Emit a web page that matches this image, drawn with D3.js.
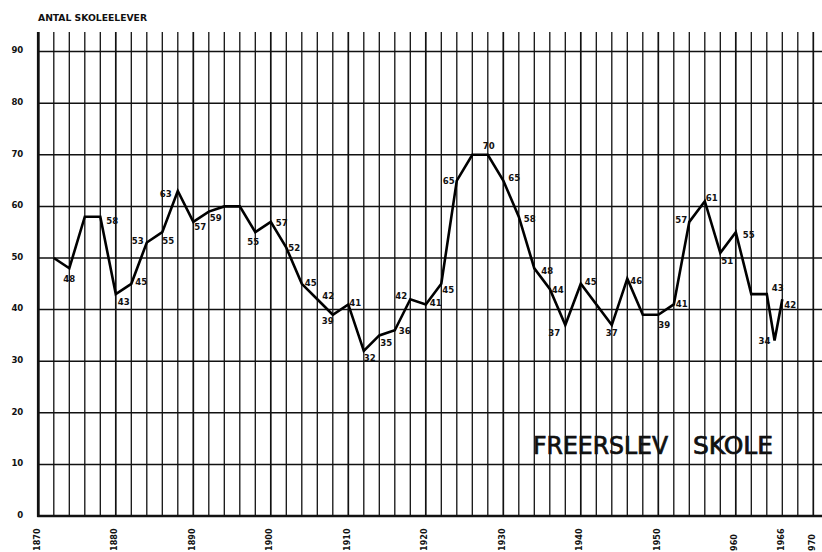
<!DOCTYPE html>
<html>
<head>
<meta charset="utf-8">
<script src="https://cdn.jsdelivr.net/npm/d3@7"></script>
<style>
  html, body { margin: 0; padding: 0; background: #fff; }
  svg { display: block; }
  text { font-family: "DejaVu Sans Condensed", "DejaVu Sans", sans-serif; fill: #111; }
</style>
</head>
<body>
<svg id="chart" width="822" height="552"></svg>
<script>
// Pupils enrolled at Freerslev Skole
const years = [1872, 1874, 1876, 1878, 1880, 1882, 1884, 1886, 1888, 1890, 1892, 1894,
  1896, 1898, 1900, 1902, 1904, 1906, 1908, 1910, 1912, 1914, 1916, 1918, 1920, 1922,
  1924, 1926, 1928, 1930, 1932, 1934, 1936, 1938, 1940, 1944, 1946, 1948, 1950, 1952,
  1954, 1956, 1958, 1960, 1962, 1964, 1965, 1966];
const pupils = [50, 48, 58, 58, 43, 45, 53, 55, 63, 57, 59, 60,
  60, 55, 57, 52, 45, 42, 39, 41, 32, 35, 36, 42, 41, 45,
  65, 70, 70, 65, 58, 48, 44, 37, 45, 37, 46, 39, 39, 41,
  57, 61, 51, 55, 43, 43, 34, 42];

// Which points carry a printed value
const labelled = [false, true, false, true, true, true, true, true, true, true, true, false,
  false, true, true, true, true, true, true, true, true, true, true, true, true, true,
  true, false, true, true, true, true, true, true, true, true, true, false, true, true,
  true, true, true, true, false, true, true, true];

const yTicks = [0, 10, 20, 30, 40, 50, 60, 70, 80, 90];
const xTickYears = [1870, 1880, 1890, 1900, 1910, 1920, 1930, 1940, 1950, 1960, 1966, 1970];
const xTickLabels = ["1870", "1880", "1890", "1900", "1910", "1920", "1930", "1940", "1950", "960", "1966", "970"];
const yTitle = "ANTAL SKOLEELEVER";
const chartTitle = ["FREERSLEV", "SKOLE"];

// Label placement relative to each point (layout only)
const labelOffset = [
  null, [0, 10], null, [12, 4], [8, 8], [10, -2], [-9, -2], [6, 8], [-12, 3], [7, 5], [7, 6], null,
  null, [-2, 9], [11, 1], [8, 0], [9, -1], [11, -4], [-5, 6], [7, -2], [6, 7], [7, 7], [10, 0], [-9, -4], [10, -2], [7, 6],
  [-8, 0], null, [1, -9], [11, -3], [11, 2], [13, 2], [8, 1], [-11, 8], [10, -2], [0, 8], [9, 2], null, [6, 10], [8, -1],
  [-8, -2], [7, -4], [7, 8], [13, 2], null, [11, -6], [-10, 0], [8, 5]
];

const svg = d3.select("#chart");
const left = 38.3, right = 822, bottom = 516, gridTop = 32;

const x = d3.scaleLinear().domain([1870, 1970]).range([left, 813.3]);
const y = d3.scaleLinear().domain([0, 90]).range([bottom, 51.6]);

// Graph-paper grid: vertical lines every two years, horizontal every ten pupils
const grid = svg.append("g").attr("stroke", "#111");
grid.selectAll("line.v")
  .data(d3.range(1872, 1971, 2))
  .join("line")
  .attr("class", "v")
  .attr("x1", d => x(d)).attr("x2", d => x(d))
  .attr("y1", gridTop).attr("y2", bottom)
  .attr("stroke-width", d => d % 10 === 0 ? 1.7 : 1.3);

grid.selectAll("line.h")
  .data(yTicks.filter(d => d > 0))
  .join("line")
  .attr("class", "h")
  .attr("x1", left).attr("x2", right)
  .attr("y1", d => y(d)).attr("y2", d => y(d))
  .attr("stroke-width", 1.5);

// Axis lines
svg.append("line")
  .attr("x1", left).attr("x2", left).attr("y1", gridTop).attr("y2", bottom + 1)
  .attr("stroke", "#111").attr("stroke-width", 2.8);
svg.append("line")
  .attr("x1", left - 1).attr("x2", right).attr("y1", bottom).attr("y2", bottom)
  .attr("stroke", "#111").attr("stroke-width", 2.6);

// Y tick labels
const yAxis = svg.append("g")
  .attr("transform", `translate(${left},0)`)
  .call(d3.axisLeft(y).tickValues(yTicks).tickSize(0).tickPadding(15).tickFormat(d3.format("d")));
yAxis.select(".domain").remove();
yAxis.selectAll("text")
  .attr("dy", "0.3em")
  .attr("y", -1.5)
  .style("font-size", "9.5px")
  .style("font-weight", "bold")
  .style("font-family", "'DejaVu Sans Condensed', sans-serif")
  .attr("fill", "#111");

// X tick labels, rotated to read upward
const xAxis = svg.append("g")
  .attr("transform", `translate(0,${bottom})`)
  .call(d3.axisBottom(x).tickValues(xTickYears).tickSize(0)
    .tickFormat((d, i) => xTickLabels[i]));
xAxis.select(".domain").remove();
xAxis.selectAll("text")
  .attr("transform", "rotate(-90)")
  .attr("text-anchor", "start")
  .attr("x", -35)
  .attr("y", -2)
  .attr("dy", "0.35em")
  .style("font-size", "9px")
  .style("font-weight", "bold")
  .style("font-family", "'DejaVu Sans Condensed', sans-serif")
  .attr("fill", "#111");

// Axis title
svg.append("text")
  .attr("x", 38).attr("y", 21)
  .attr("textLength", 109).attr("lengthAdjust", "spacingAndGlyphs")
  .style("font-size", "9.5px").style("font-weight", "bold")
  .text(yTitle);

// Enrolment line
const pts = years.map((yr, i) => ({ year: yr, value: pupils[i], i }));
svg.append("path")
  .datum(pts)
  .attr("fill", "none")
  .attr("stroke", "#000")
  .attr("stroke-width", 2.6)
  .attr("stroke-linejoin", "miter")
  .attr("d", d3.line().x(d => x(d.year)).y(d => y(d.value)));

// Value labels
svg.append("g")
  .selectAll("text")
  .data(pts.filter(d => labelled[d.i]))
  .join("text")
  .attr("x", d => x(d.year) + labelOffset[d.i][0])
  .attr("y", d => y(d.value) + labelOffset[d.i][1])
  .attr("text-anchor", "middle")
  .attr("dy", "0.35em")
  .style("font-size", "9.5px")
  .style("font-weight", "bold")
  .text(d => d.value);

// School name, stencil-style lettering
const nameG = svg.append("g")
  .style("font-size", "25px")
  .style("font-weight", "normal")
  .attr("stroke", "#111")
  .attr("stroke-width", 0.7);
nameG.append("text")
  .attr("x", 533).attr("y", 454)
  .attr("textLength", 135).attr("lengthAdjust", "spacingAndGlyphs")
  .text(chartTitle[0]);
nameG.append("text")
  .attr("x", 693).attr("y", 454)
  .attr("textLength", 80).attr("lengthAdjust", "spacingAndGlyphs")
  .text(chartTitle[1]);
</script>
</body>
</html>
